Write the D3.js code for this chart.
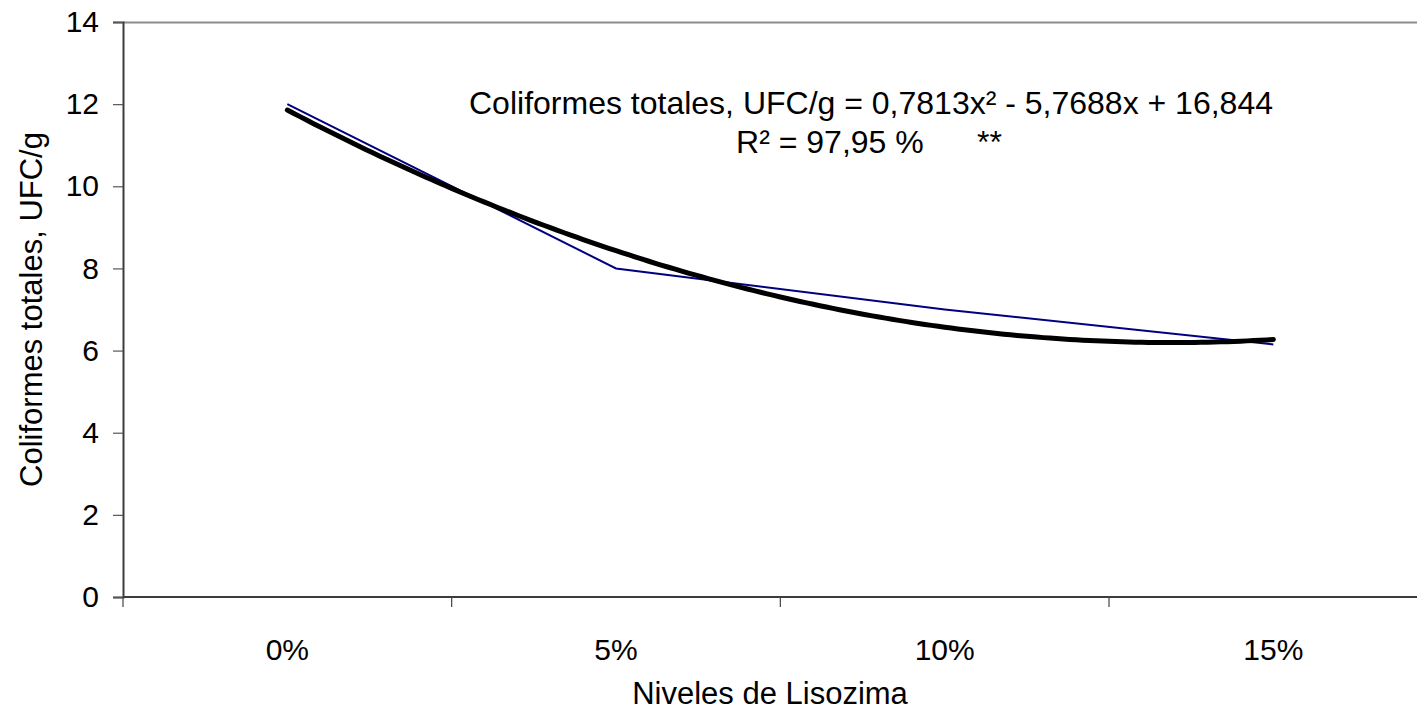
<!DOCTYPE html>
<html>
<head>
<meta charset="utf-8">
<script src="https://cdn.jsdelivr.net/npm/d3@7"></script>
<style>
  html, body { margin: 0; padding: 0; background: #fff; }
  svg { display: block; font-family: "Liberation Sans", Arial, sans-serif; }
</style>
</head>
<body>
<svg id="chart" width="1417" height="713"></svg>
<script>
// Lysozyme levels and measured total coliforms (UFC/g)
const categories = ["0%", "5%", "10%", "15%"];
const coliformes = [12.0, 8.0, 7.0, 6.15];
const yTicks = [0, 2, 4, 6, 8, 10, 12, 14];

// Quadratic trendline y = a x² + b x + c (x = 1..4), as stated in the label
const trendCoef = [0.7813, -5.7688, 16.844];
const equationLine = "Coliformes totales, UFC/g = 0,7813x² - 5,7688x + 16,844";
const r2Line = "R² = 97,95 %      **";

const svg = d3.select("#chart");
const plot = { left: 123, top: 22, bottom: 597, band: 328.67 };
const fontSize = 30;

const x = d3.scaleBand()
  .domain(categories)
  .range([plot.left, plot.left + plot.band * categories.length])
  .padding(0);
const xPos = d => x(d) + x.bandwidth() / 2;
// continuous position for trendline index 1..4
const xIdx = d3.scaleLinear().domain([1, categories.length])
  .range([xPos(categories[0]), xPos(categories[categories.length - 1])]);
const y = d3.scaleLinear().domain([0, 14]).range([plot.bottom, plot.top]);

// top border of the plot area
svg.append("line")
  .attr("x1", plot.left).attr("x2", 1417)
  .attr("y1", plot.top + 0.5).attr("y2", plot.top + 0.5)
  .attr("stroke", "#8c8c8c").attr("stroke-width", 2);

// y axis
const yAxis = svg.append("g")
  .attr("transform", `translate(${plot.left},0)`)
  .call(d3.axisLeft(y).tickValues(yTicks).tickSize(10).tickPadding(14).tickFormat(d3.format("d")));
yAxis.select(".domain").attr("stroke", "#3c3c3c").attr("stroke-width", 2);
yAxis.selectAll(".tick line").attr("stroke", "#555").attr("stroke-width", 1.2);
yAxis.selectAll(".tick text")
  .attr("font-size", fontSize).attr("fill", "#000")
  .style("font-family", "Liberation Sans, Arial, sans-serif");

// x axis: labels at band centres, tick marks at band edges
const xAxis = svg.append("g")
  .attr("transform", `translate(0,${plot.bottom})`)
  .call(d3.axisBottom(x).tickSize(0).tickPadding(42));
xAxis.select(".domain").remove();
xAxis.selectAll(".tick text")
  .attr("font-size", fontSize).attr("fill", "#000")
  .style("font-family", "Liberation Sans, Arial, sans-serif");
svg.append("line")
  .attr("x1", plot.left).attr("x2", 1417)
  .attr("y1", plot.bottom).attr("y2", plot.bottom)
  .attr("stroke", "#3c3c3c").attr("stroke-width", 2.2);
svg.append("g").selectAll("line")
  .data(categories)
  .join("line")
  .attr("x1", d => x(d)).attr("x2", d => x(d))
  .attr("y1", plot.bottom).attr("y2", plot.bottom + 10)
  .attr("stroke", "#444").attr("stroke-width", 1.2);

// measured series
svg.append("path")
  .datum(coliformes)
  .attr("fill", "none")
  .attr("stroke", "#000080")
  .attr("stroke-width", 2)
  .attr("d", d3.line().x((d, i) => xPos(categories[i])).y(d => y(d)));

// polynomial trendline
const trendPts = d3.range(1, categories.length + 0.0001, 0.02).map(t => [t, trendCoef[0] * t * t + trendCoef[1] * t + trendCoef[2]]);
svg.append("path")
  .datum(trendPts)
  .attr("fill", "none")
  .attr("stroke", "#000")
  .attr("stroke-width", 5)
  .attr("stroke-linecap", "round")
  .attr("stroke-linejoin", "round")
  .attr("d", d3.line().x(d => xIdx(d[0])).y(d => y(d[1])));

// trendline label
const eq = svg.append("g").attr("font-size", 32).attr("fill", "#000").attr("text-anchor", "middle");
eq.append("text").attr("x", 871).attr("y", 114).text(equationLine);
eq.append("text").attr("x", 869).attr("y", 153).style("white-space", "pre").text(r2Line);

// axis titles
svg.append("text")
  .attr("transform", `translate(42,${(plot.top + plot.bottom) / 2}) rotate(-90)`)
  .attr("text-anchor", "middle").attr("font-size", 31)
  .text("Coliformes totales, UFC/g");
svg.append("text")
  .attr("x", 770).attr("y", 704)
  .attr("text-anchor", "middle").attr("font-size", 31)
  .text("Niveles de Lisozima");
</script>
</body>
</html>
